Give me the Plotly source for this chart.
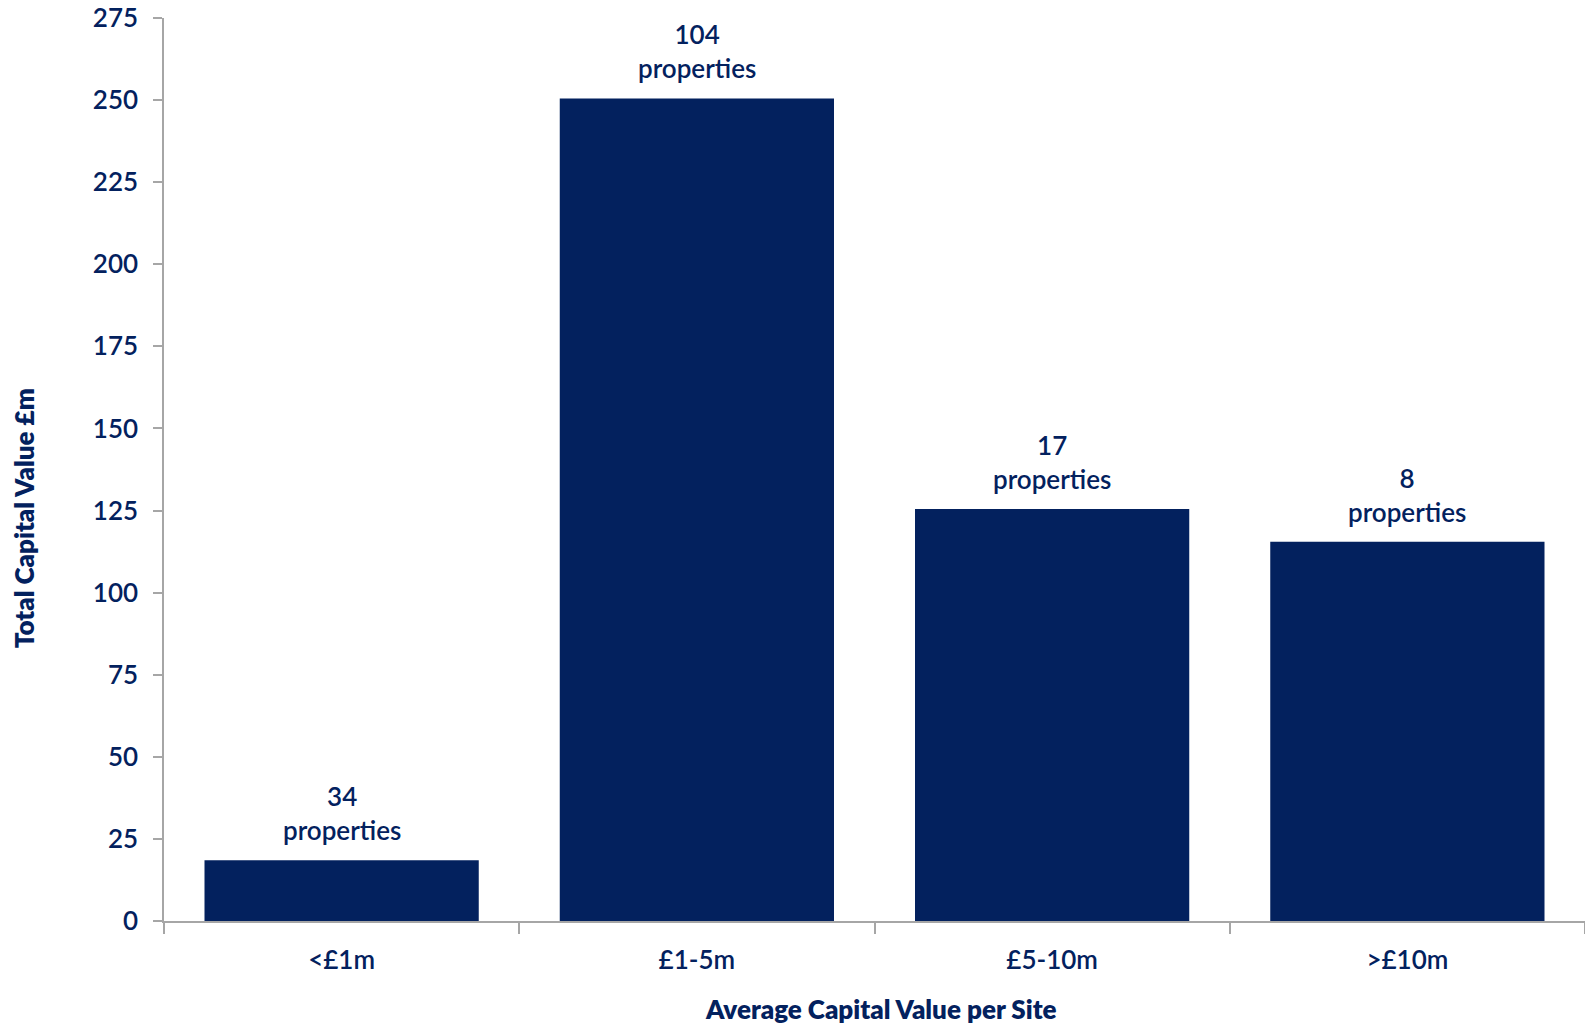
import plotly.graph_objects as go

# Portfolio split by average capital value per site
categories = ["<£1m", "£1-5m", "£5-10m", ">£10m"]
total_value_m = [18.5, 250.5, 125.5, 115.5]
property_counts = [34, 104, 17, 8]

NAVY = "#03215E"
GREY = "#A6A6A6"
FONT = "Lato"
TEXT_WEIGHT = 600

fig = go.Figure(
    go.Bar(
        x=categories,
        y=total_value_m,
        marker=dict(color=NAVY, line=dict(width=0)),
        width=0.772,
        hoverinfo="skip",
    )
)

# Property count labels above each bar
for cat, val, n in zip(categories, total_value_m, property_counts):
    fig.add_annotation(
        x=cat, y=val, xref="x", yref="y",
        text=f"{n}<br>properties",
        showarrow=False, yanchor="bottom", yshift=12,
        font=dict(family=FONT, size=26, color=NAVY, weight=TEXT_WEIGHT),
    )

# Axis titles
fig.add_annotation(
    x=-0.0985, y=0.446, xref="paper", yref="paper",
    text="Total Capital Value £m", textangle=-90,
    showarrow=False, xanchor="center", yanchor="middle",
    font=dict(family=FONT, size=26, color=NAVY, weight=800),
)
fig.add_annotation(
    x=0.5046, y=-0.097, xref="paper", yref="paper",
    text="Average Capital Value per Site",
    showarrow=False, xanchor="center", yanchor="middle",
    font=dict(family=FONT, size=26, color=NAVY, weight=800),
)

fig.update_layout(
    width=1585, height=1024,
    margin=dict(l=164, r=0, t=18, b=103),
    plot_bgcolor="white", paper_bgcolor="white",
    showlegend=False,
    font=dict(family=FONT, size=26, color=NAVY),
)

fig.update_xaxes(
    type="category",
    range=[-0.5, 3.5],
    showline=True, linecolor=GREY, linewidth=1.5,
    ticks="outside", tickson="boundaries", ticklen=11,
    tickcolor=GREY, tickwidth=1.5,
    ticklabelstandoff=15,
    showgrid=False, zeroline=False,
    tickfont=dict(family=FONT, size=26, color=NAVY, weight=TEXT_WEIGHT),
)
fig.update_yaxes(
    range=[0, 275], dtick=25, tick0=0,
    showline=True, linecolor=GREY, linewidth=1.5,
    ticks="outside", ticklen=9, tickcolor=GREY, tickwidth=1.5,
    ticklabelstandoff=10,
    showgrid=False, zeroline=False,
    tickfont=dict(family=FONT, size=26, color=NAVY, weight=TEXT_WEIGHT),
)

fig.write_html("out.html")
